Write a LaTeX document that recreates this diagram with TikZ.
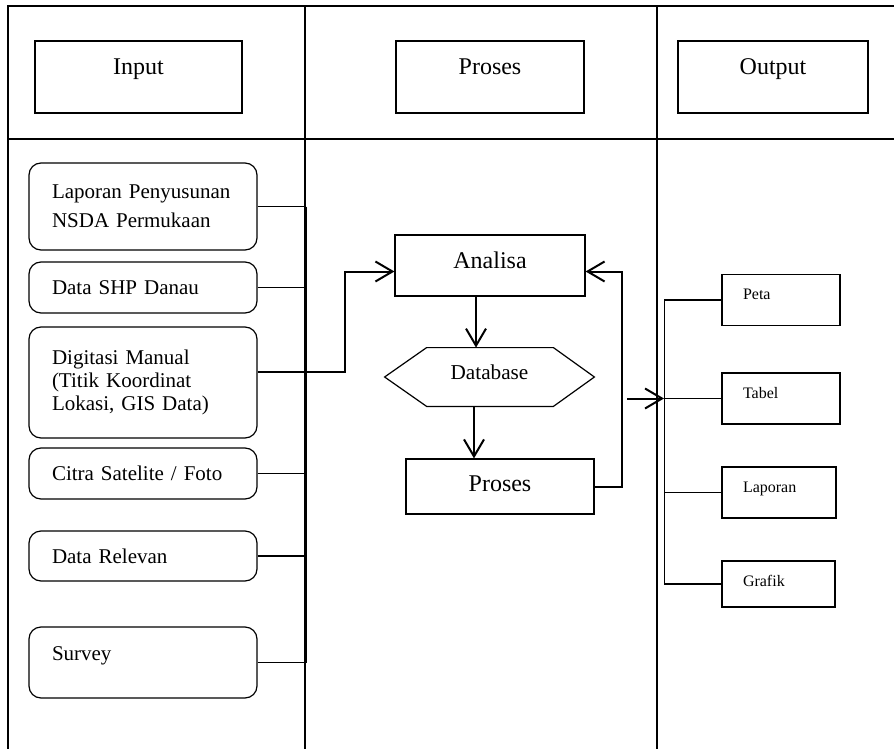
\documentclass[tikz,border=0pt]{standalone}
\usepackage{fontspec}
\setmainfont{Liberation Serif}
\usetikzlibrary{arrows.meta,positioning,calc}

\begin{document}
\begin{tikzpicture}[
    x=0.5pt, y=-0.5pt,
    frame/.style={line width=0.6pt},
    header/.style={rectangle, draw=black, line width=0.6pt, inner sep=0pt, text height=17pt, text depth=19pt, font=\fontsize{12}{14}\selectfont},
    inbox/.style={rectangle, rounded corners=6pt, draw=black, line width=0.6pt, inner xsep=11.5pt, inner ysep=0pt, text width=91pt, align=left, font=\fontsize{10.5}{14.5}\selectfont},
    process/.style={rectangle, draw=black, line width=0.6pt, inner sep=0pt, font=\fontsize{12}{14}\selectfont},
    outbox/.style={rectangle, draw=black, line width=0.6pt, inner xsep=10.5pt, inner ysep=0pt, text height=12.5pt, text depth=13pt, text width=38pt, align=left, font=\fontsize{8}{9.6}\selectfont},
    link/.style={line width=0.6pt},
    bus/.style={line width=0.9pt},
    arrow/.style={line width=1pt, -{Straight Barb[length=8.5pt,width=10pt]}}
]
    \useasboundingbox (0,0) rectangle (894,749);

    % table
    \draw[frame] (894,6) -- (8,6) -- (8,749);
    \draw[frame] (8,139) -- (894,139);
    \draw[frame] (305,6) -- (305,749);
    \draw[frame] (657,6) -- (657,749);

    \node[header, minimum width=103.5pt] (hinput) at (138.5,77) {Input};
    \node[header, minimum width=94pt] (hproses) at (490,77) {Proses};
    \node[header, minimum width=95pt] (houtput) at (773,77) {Output};

    % input
    \node[inbox, minimum height=43.5pt] (lap) at (143,206.5) {Laporan Penyusunan\\NSDA Permukaan};
    \node[inbox, minimum height=25.5pt] (shp) at (143,287.5) {Data SHP Danau};
    \node[inbox, minimum height=55.5pt, font=\fontsize{10.5}{11.5}\selectfont] (digit) at (143,382.5) {Digitasi Manual\\(Titik Koordinat\\Lokasi, GIS Data)};
    \node[inbox, minimum height=25.5pt] (citra) at (143,473.5) {Citra Satelite / Foto};
    \node[inbox, minimum height=25pt] (relevan) at (143,556) {Data Relevan};
    \node[inbox, text height=16.5pt, text depth=19pt] (survey) at (143,662.5) {Survey};

    \coordinate (busout) at (296,372);
    \draw[link] (lap.east) -- ++(48,0);
    \draw[link] (shp.east) -- ++(48,0);
    \draw[link] (digit.east |- busout) -- ++(48,0);
    \draw[link] (citra.east) -- ++(48,0);
    \draw[link] (relevan.east) -- ++(48,0);
    \draw[link] (survey.east) -- ++(48,0);
    \draw[bus] ([xshift=24pt]lap.east) -- ([xshift=24pt]survey.east);

    % proses
    \node[process, minimum width=95pt, text height=16.5pt, text depth=14pt] (analisa) at (490,265.5) {Analisa};
    \node[inner sep=0pt, minimum width=104.5pt, text height=15.5pt, text depth=13.5pt, font=\fontsize{10.6}{12}\selectfont] (database) at (489.5,377) {Database};
    \draw[link] (database.west) -- ($(database.north west)+(42,0)$) -- ($(database.north east)+(-41,0)$) -- (database.east) -- ($(database.south east)+(-41,0)$) -- ($(database.south west)+(42,0)$) -- cycle;
    \node[process, minimum width=94pt, text height=16pt, text depth=11.5pt] (proses) at (500,486.5) {Proses};

    \draw[arrow] (busout) -- ++(49,0) |- ([yshift=-3pt]analisa.west);
    \draw[arrow] ([xshift=-7pt]analisa.south) -- ([xshift=-7pt]analisa.south |- database.north);
    \draw[arrow] ([xshift=-7.75pt]database.south) -- ([xshift=-7.75pt]database.south |- proses.north);
    \draw[arrow] (proses.east) -- ++(27,0) |- ([yshift=-3pt]analisa.east);

    % output
    \node[outbox] (peta) at (781,300) {Peta};
    \node[outbox] (tabel) at (781,398.5) {Tabel};
    \node[outbox, text width=36pt] (laporan) at (779,492.5) {Laporan};
    \node[outbox, text width=35.5pt, text depth=10.5pt] (grafik) at (778.5,584) {Grafik};

    \coordinate (outarr) at (627,398.5);
    \coordinate (obus) at (664,398.5);
    \draw[arrow] (outarr) -- (obus);
    \draw[link] (peta.west) -- ++(-57,0) |- (grafik.west);
    \draw[link] (tabel.west) -- ++(-57,0);
    \draw[link] (laporan.west) -- ++(-57,0);

\end{tikzpicture}
\end{document}
